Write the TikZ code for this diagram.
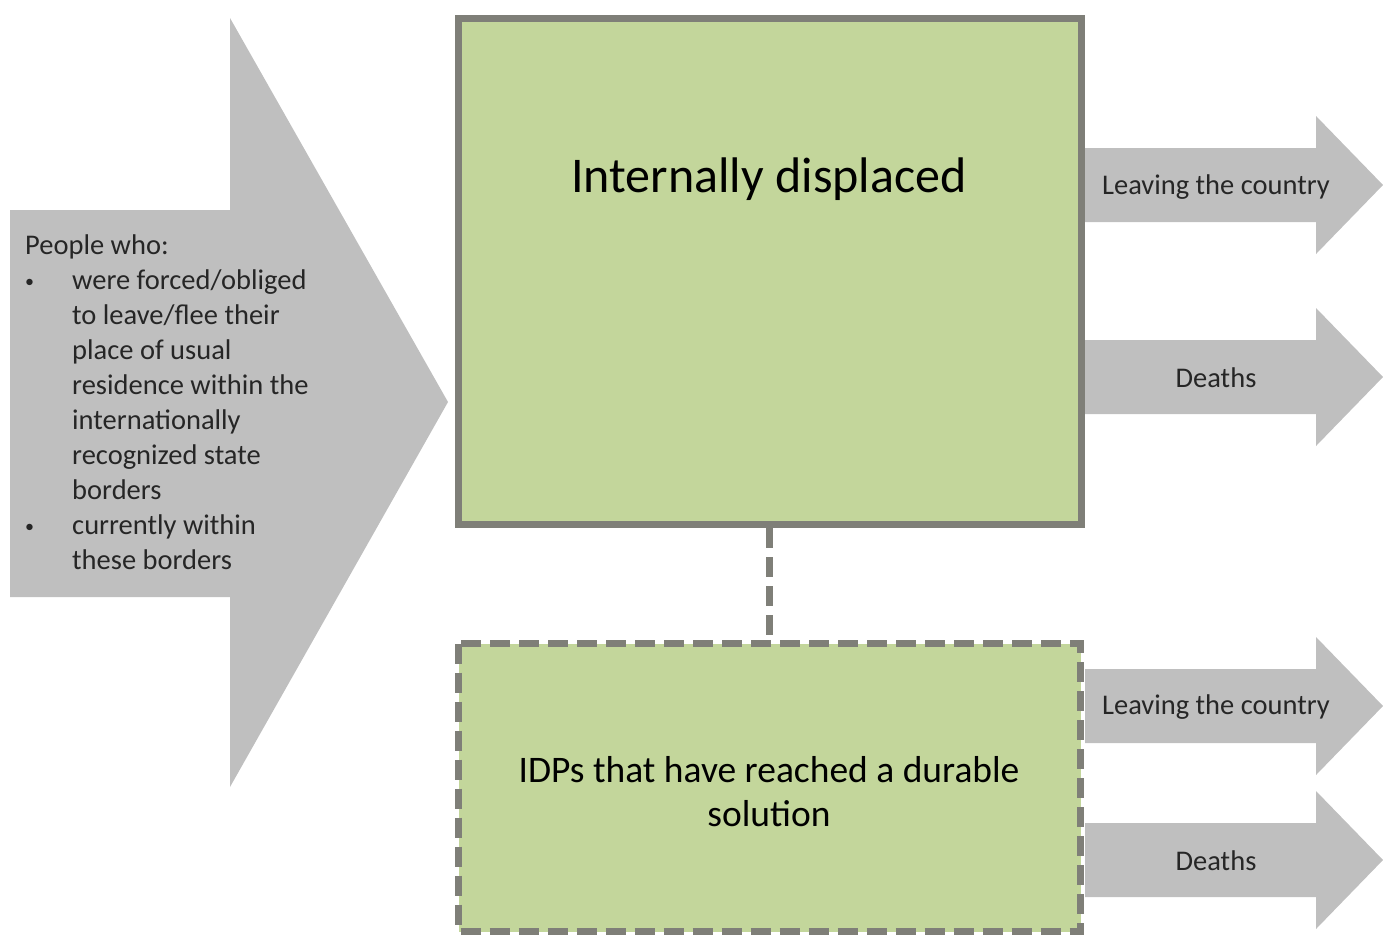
\documentclass[tikz,border=0pt]{standalone}
\usepackage{fontspec}
\setmainfont{Carlito}
\definecolor{boxgreen}{HTML}{C3D69B}
\definecolor{boxline}{HTML}{7F7F78}
\definecolor{arrowgray}{HTML}{BFBFBF}
\definecolor{txtdark}{HTML}{262626}
\tikzset{
  grayarrow/.style={fill=arrowgray, draw=none},
  greenbox/.style={fill=boxgreen, draw=boxline, line width=7pt},
  dashedline/.style={dash pattern=on 20pt off 9pt},
  smalltxt/.style={font=\fontsize{28.5}{35}\selectfont, text=txtdark, inner sep=0pt},
}
\begin{document}
\begin{tikzpicture}[x=1pt,y=-1pt]
\useasboundingbox (0,0) rectangle (1383,940);
% big left arrow
\fill[grayarrow] (10,210) -- (230,210) -- (230,18) -- (448,402) -- (230,787) -- (230,597) -- (10,597) -- cycle;
% right arrows
\foreach \yc in {185,377,706,860}{
  \fill[grayarrow] (1085,\yc-37) -- (1316,\yc-37) -- (1316,\yc-69) -- (1383,\yc) -- (1316,\yc+69) -- (1316,\yc+37) -- (1085,\yc+37) -- cycle;
}
% boxes
\draw[greenbox] (458.5,18.5) rectangle (1081.5,524.5);
\draw[greenbox, dashedline] (458.5,643.5) rectangle (1080.5,931.5);
\coordinate (mainS) at (769,528);
\coordinate (lowN) at (769,640);
\draw[boxline, line width=7pt, dashedline] (mainS) -- (lowN);
% texts
\node[smalltxt, anchor=base west] (people) at (25,254) {%
\begin{tabular}[t]{@{}p{47pt}@{}l@{}}
\multicolumn{2}{@{}l@{}}{People who:}\\
\raisebox{2pt}{\fontsize{18}{18}\selectfont\textbullet} & were forced/obliged\\
 & to leave/flee their\\
 & place of usual\\
 & residence within the\\
 & internationally\\
 & recognized state\\
 & borders\\
\raisebox{2pt}{\fontsize{18}{18}\selectfont\textbullet} & currently within\\
 & these borders
\end{tabular}};
\node[font=\fontsize{50}{60}\selectfont, inner sep=0pt, anchor=base] (idp) at (769,192) {Internally displaced};
\node[font=\fontsize{37.5}{44}\selectfont, inner sep=0pt, align=center] (durable) at (769,792) {IDPs that have reached a durable\\solution};
\node[smalltxt] (leave1) at (1216,187) {Leaving the country};
\node[smalltxt] (death1) at (1216,378) {Deaths};
\node[smalltxt] (leave2) at (1216,707) {Leaving the country};
\node[smalltxt] (death2) at (1216,861) {Deaths};
\end{tikzpicture}
\end{document}
